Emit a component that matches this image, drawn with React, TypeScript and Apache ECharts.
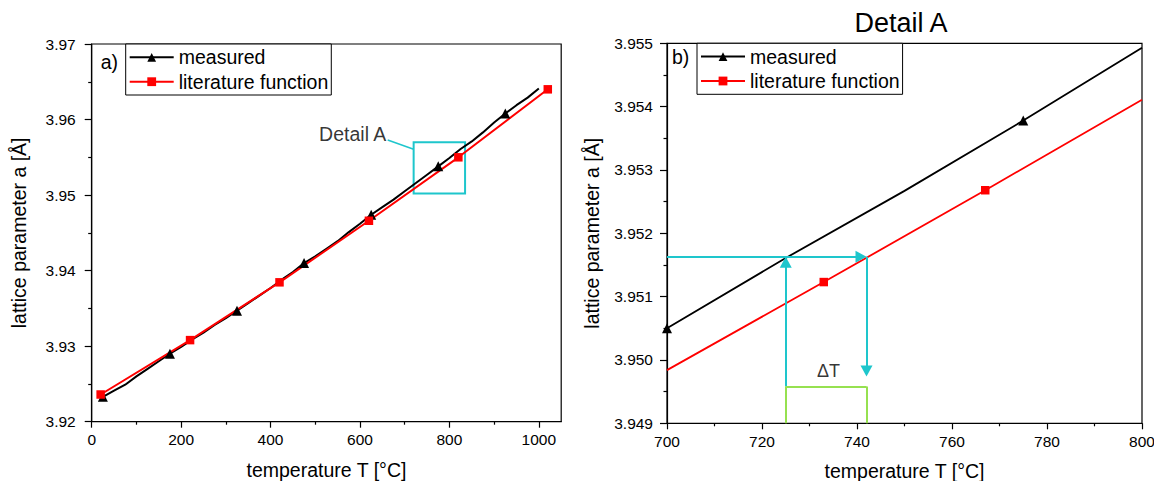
import React, { useEffect, useRef } from "react";
import * as echarts from "echarts";

// ---- overview (a): lattice parameter over the full temperature range ----
const measuredT = [
  25, 50, 75, 100, 125, 150, 175, 200, 225, 250, 275, 300, 325, 350, 375, 400, 425, 450, 475, 500,
  525, 550, 575, 600, 625, 650, 675, 700, 725, 750, 775, 800, 825, 850, 875, 900, 925, 950, 975, 1000,
];
const measuredA = [
  3.9233, 3.9241, 3.9249, 3.926, 3.927, 3.928, 3.929, 3.9299, 3.9309, 3.9318, 3.9328, 3.9337, 3.9347,
  3.9357, 3.9367, 3.9377, 3.9388, 3.9398, 3.941, 3.9419, 3.9429, 3.9439, 3.9451, 3.9462, 3.9474,
  3.9484, 3.9494, 3.9505, 3.9516, 3.9527, 3.9538, 3.9549, 3.9561, 3.9571, 3.9583, 3.9596, 3.9608,
  3.9619, 3.9629, 3.9641,
];
const measuredMarkerT = [25, 175, 325, 475, 625, 775, 925];

const literatureT = [20, 220, 420, 620, 820, 1020];
const literatureA = [3.9236, 3.9308, 3.93845, 3.9466, 3.955, 3.964];

const overviewTempTicks = [0, 200, 400, 600, 800, 1000];
const overviewTempMinorTicks = [100, 300, 500, 700, 900];

// frame marking the zoomed region, its leader line and caption
const detailBoxT = [720, 835];
const detailBoxA = [3.9502, 3.957];
const detailLeaderT = [662, 720];
const detailLeaderA = [3.9573, 3.95606];
const detailCaptionPos = [660, 3.9581];

// ---- detail (b): 700-800 °C ----
const detailMeasuredT = [700, 725, 750, 775, 800];
const detailMeasuredA = [3.9505, 3.95161, 3.95267, 3.95378, 3.95493];
const detailMeasuredMarkerT = [700, 775];
const detailLiteratureT = [700, 733, 767, 800];
const detailLiteratureA = [3.94984, 3.95123, 3.95268, 3.95411];
const detailLiteratureMarkerT = [733, 767];

// ΔT construction
const crossA = 3.95163;
const tMeasuredAtCross = 725;
const tLiteratureAtCross = 742;
const bracketA = 3.94958;
const downArrowTipA = 3.94974;
const deltaLabelPos = [734, 3.94982];

const FONT = "'Liberation Sans', Arial, sans-serif";
const BLACK = "#000000";
const RED = "#ff0000";
const CYAN = "#1ec6cc";
const GREEN = "#96e150";

// plot rectangles (px)
const G1 = { left: 91.7, top: 44, width: 469.5, height: 377.7 };
const G2 = { left: 667, top: 43.3, width: 475, height: 380 };

// arrow heads: markLine symbols are centred on the end point, so pull the
// end point back by half the head length to put the tip on the target
const ARROW: [number, number] = [12, 11];
const halfHeadT = (ARROW[1] / 2) * (100 / G2.width);
const halfHeadA = (ARROW[1] / 2) * (0.006 / G2.height);

function points(ts: number[], vs: number[], markerTs: number[]) {
  return ts.map((t, i) =>
    markerTs.includes(t) ? { value: [t, vs[i]] } : { value: [t, vs[i]], symbol: "none" }
  );
}

const head = (coord: number[]) => ({ coord, symbol: "triangle", symbolSize: ARROW });
const tail = (coord: number[]) => ({ coord, symbol: "none" });

const tickLabel = { color: BLACK, fontSize: 15.5, fontFamily: FONT };
const axisName = { color: BLACK, fontSize: 19.5, fontFamily: FONT };
const axisLineStyle = { color: BLACK, width: 1.2 };

function legendAt(left: number, top: number) {
  return {
    orient: "vertical",
    left,
    top,
    data: ["measured", "literature function"],
    itemWidth: 44,
    itemHeight: 11,
    itemGap: 4.4,
    padding: [3.3, 3, 3.3, 3],
    borderColor: BLACK,
    borderWidth: 1,
    borderRadius: 0,
    backgroundColor: "#ffffff",
    selectedMode: false,
    textStyle: { color: BLACK, fontSize: 19.5, lineHeight: 20, fontFamily: FONT },
  };
}

const option: any = {
  animation: false,
  backgroundColor: "#ffffff",
  textStyle: { fontFamily: FONT },
  grid: [
    { ...G1, show: true, borderColor: BLACK, borderWidth: 1.2, backgroundColor: "transparent", containLabel: false, outerBoundsMode: "none" },
    { ...G2, show: true, borderColor: BLACK, borderWidth: 1.2, backgroundColor: "transparent", containLabel: false, outerBoundsMode: "none" },
  ],
  legend: [legendAt(125.7, 44), legendAt(697, 43.3)],
  xAxis: [
    {
      gridIndex: 0,
      type: "value",
      position: "bottom",
      min: 0,
      max: 1050,
      name: "temperature T [°C]",
      nameLocation: "middle",
      nameGap: 38,
      nameTextStyle: axisName,
      axisLine: { show: true, onZero: false, lineStyle: axisLineStyle },
      axisTick: { show: true, inside: false, length: 6, customValues: overviewTempTicks, lineStyle: axisLineStyle },
      axisLabel: { ...tickLabel, margin: 10, customValues: overviewTempTicks, formatter: (v: number) => String(v) },
      splitLine: { show: false },
    },
    {
      gridIndex: 0,
      type: "value",
      position: "bottom",
      min: 0,
      max: 1050,
      axisLine: { show: false, onZero: false },
      axisTick: { show: true, inside: false, length: 3, customValues: overviewTempMinorTicks, lineStyle: axisLineStyle },
      axisLabel: { show: false },
      splitLine: { show: false },
    },
    {
      gridIndex: 1,
      type: "value",
      position: "bottom",
      min: 700,
      max: 800,
      interval: 20,
      name: "temperature T [°C]",
      nameLocation: "middle",
      nameGap: 38,
      nameTextStyle: axisName,
      axisLine: { show: true, onZero: false, lineStyle: axisLineStyle },
      axisTick: { show: true, inside: false, length: 6, lineStyle: axisLineStyle },
      minorTick: { show: true, splitNumber: 2, length: 3, lineStyle: axisLineStyle },
      axisLabel: { ...tickLabel, margin: 10, formatter: (v: number) => String(v) },
      splitLine: { show: false },
    },
  ],
  yAxis: [
    {
      gridIndex: 0,
      type: "value",
      min: 3.92,
      max: 3.97,
      interval: 0.01,
      name: "lattice parameter a [Å]",
      nameLocation: "middle",
      nameGap: 63,
      nameTextStyle: axisName,
      axisLine: { show: true, onZero: false, lineStyle: axisLineStyle },
      axisTick: { show: true, inside: false, length: 7, lineStyle: axisLineStyle },
      minorTick: { show: true, splitNumber: 2, length: 3.5, lineStyle: axisLineStyle },
      axisLabel: { ...tickLabel, margin: 16, formatter: (v: number) => v.toFixed(2) },
      splitLine: { show: false },
    },
    {
      gridIndex: 1,
      type: "value",
      min: 3.949,
      max: 3.955,
      interval: 0.001,
      name: "lattice parameter a [Å]",
      nameLocation: "middle",
      nameGap: 65,
      nameTextStyle: axisName,
      axisLine: { show: true, onZero: false, lineStyle: axisLineStyle },
      axisTick: { show: true, inside: false, length: 7, lineStyle: axisLineStyle },
      minorTick: { show: true, splitNumber: 2, length: 3.5, lineStyle: axisLineStyle },
      axisLabel: { ...tickLabel, margin: 14, formatter: (v: number) => v.toFixed(3) },
      splitLine: { show: false },
    },
  ],
  graphic: [
    {
      type: "text",
      x: 100.7,
      y: 61.7,
      style: { text: "a)", font: `19.5px ${FONT}`, fill: BLACK, align: "left", verticalAlign: "middle" },
    },
    {
      type: "text",
      x: 672,
      y: 56.7,
      style: { text: "b)", font: `19.5px ${FONT}`, fill: BLACK, align: "left", verticalAlign: "middle" },
    },
    {
      type: "text",
      x: 901,
      y: 22.5,
      style: { text: "Detail A", font: `27px ${FONT}`, fill: BLACK, align: "center", verticalAlign: "middle" },
    },
  ],
  series: [
    {
      name: "measured",
      type: "line",
      xAxisIndex: 0,
      yAxisIndex: 0,
      symbol: "triangle",
      symbolSize: 10,
      lineStyle: { color: BLACK, width: 2 },
      itemStyle: { color: BLACK },
      emphasis: { disabled: true },
      data: points(measuredT, measuredA, measuredMarkerT),
      markArea: {
        silent: true,
        label: { show: false },
        itemStyle: { color: "rgba(0,0,0,0)", borderColor: CYAN, borderWidth: 2 },
        data: [[{ coord: [detailBoxT[0], detailBoxA[1]] }, { coord: [detailBoxT[1], detailBoxA[0]] }]],
      },
      markLine: {
        silent: true,
        symbol: ["none", "none"],
        label: { show: false },
        lineStyle: { color: CYAN, width: 1.5, type: "solid" },
        data: [[{ coord: [detailLeaderT[0], detailLeaderA[0]] }, { coord: [detailLeaderT[1], detailLeaderA[1]] }]],
      },
    },
    {
      name: "literature function",
      type: "line",
      xAxisIndex: 0,
      yAxisIndex: 0,
      symbol: "rect",
      symbolSize: 8.5,
      lineStyle: { color: RED, width: 2 },
      itemStyle: { color: RED },
      emphasis: { disabled: true },
      data: points(literatureT, literatureA, literatureT),
    },
    {
      name: "caption",
      type: "scatter",
      xAxisIndex: 0,
      yAxisIndex: 0,
      symbol: "circle",
      symbolSize: 1,
      itemStyle: { color: "rgba(0,0,0,0)" },
      silent: true,
      labelLayout: { hideOverlap: false },
      label: {
        show: true,
        position: "left",
        distance: 0,
        formatter: "Detail A",
        color: BLACK,
        fontSize: 19.5,
        fontFamily: FONT,
      },
      data: [detailCaptionPos],
    },
    {
      name: "measured",
      type: "line",
      xAxisIndex: 2,
      yAxisIndex: 1,
      symbol: "triangle",
      symbolSize: 10,
      lineStyle: { color: BLACK, width: 1.8 },
      itemStyle: { color: BLACK },
      emphasis: { disabled: true },
      data: points(detailMeasuredT, detailMeasuredA, detailMeasuredMarkerT),
      markLine: {
        silent: true,
        symbol: ["none", "triangle"],
        symbolSize: ARROW,
        label: { show: false },
        lineStyle: { color: CYAN, width: 2, type: "solid" },
        data: [
          // level line from the axis to the literature curve
          [tail([700, crossA]), head([tLiteratureAtCross - halfHeadT, crossA])],
          // up arrow onto the measured curve
          [tail([tMeasuredAtCross, bracketA]), head([tMeasuredAtCross, crossA - halfHeadA])],
          // down arrow from the literature curve
          [tail([tLiteratureAtCross, crossA]), head([tLiteratureAtCross, downArrowTipA + halfHeadA])],
        ],
      },
    },
    {
      name: "literature function",
      type: "line",
      xAxisIndex: 2,
      yAxisIndex: 1,
      symbol: "rect",
      symbolSize: 8.5,
      lineStyle: { color: RED, width: 1.8 },
      itemStyle: { color: RED },
      emphasis: { disabled: true },
      data: points(detailLiteratureT, detailLiteratureA, detailLiteratureMarkerT),
      markLine: {
        silent: true,
        symbol: ["none", "none"],
        label: { show: false },
        lineStyle: { color: GREEN, width: 2, type: "solid" },
        data: [
          [{ coord: [tMeasuredAtCross, 3.949] }, { coord: [tMeasuredAtCross, bracketA] }],
          [{ coord: [tMeasuredAtCross, bracketA] }, { coord: [tLiteratureAtCross, bracketA] }],
          [{ coord: [tLiteratureAtCross, bracketA] }, { coord: [tLiteratureAtCross, 3.949] }],
        ],
      },
    },
    {
      name: "delta",
      type: "scatter",
      xAxisIndex: 2,
      yAxisIndex: 1,
      symbol: "circle",
      symbolSize: 1,
      itemStyle: { color: "rgba(0,0,0,0)" },
      silent: true,
      labelLayout: { hideOverlap: false },
      label: {
        show: true,
        position: "inside",
        formatter: "ΔT",
        color: BLACK,
        fontSize: 18,
        fontFamily: FONT,
      },
      data: [deltaLabelPos],
    },
  ],
};

export default function App() {
  const ref = useRef<HTMLDivElement>(null);
  useEffect(() => {
    const chart = echarts.init(ref.current!, null, { renderer: "svg" });
    chart.setOption(option);
    return () => chart.dispose();
  }, []);
  return (
    <div
      ref={ref}
      style={{ position: "absolute", left: 0, top: 0, width: 1154, height: 481, background: "#ffffff" }}
    />
  );
}
